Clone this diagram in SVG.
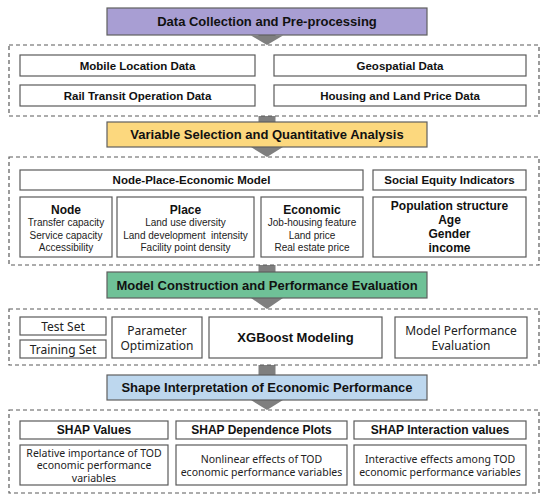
<svg xmlns="http://www.w3.org/2000/svg" width="550" height="501" viewBox="0 0 550 501">
<style>
.bg{fill:#ffffff}
.dash{fill:none;stroke:#5a5a5a;stroke-width:1.2;stroke-dasharray:4 3}
.box{fill:#ffffff;stroke:#5a5a5a;stroke-width:1.2}
.stage{stroke:#5f5f5f;stroke-width:1.2}
.arrow{fill:#7f7f7f}
.title{font-family:"Liberation Sans",Arial,sans-serif;font-weight:bold;font-size:13px;fill:#111;text-anchor:middle;dominant-baseline:central}
.bl{font-family:"Liberation Sans",Arial,sans-serif;font-weight:bold;font-size:11.5px;fill:#111;text-anchor:middle;dominant-baseline:central}
.hd{font-family:"Liberation Sans",Arial,sans-serif;font-weight:bold;font-size:12px;fill:#111;text-anchor:middle;dominant-baseline:central}
.sm{font-family:"Liberation Sans",Arial,sans-serif;font-size:10px;fill:#222;text-anchor:middle;dominant-baseline:central}
.ns{font-family:"Noto Sans",sans-serif;font-size:12px;fill:#222;text-anchor:middle;dominant-baseline:central}
.nd{font-family:"Noto Sans",sans-serif;font-size:10.5px;fill:#222;text-anchor:middle;dominant-baseline:central}
</style>
<rect class="bg" x="0" y="0" width="550" height="501"/>
<g id="connectors">
<polygon class="arrow" points="258.5,20 275.5,20 275.5,35.5 283,35.5 267,45 251,35.5 258.5,35.5"/>
<polygon class="arrow" points="258.5,116 275.5,116 275.5,147 283,147 267,157 251,147 258.5,147"/>
<polygon class="arrow" points="258.5,265 275.5,265 275.5,298 283,298 267,309 251,298 258.5,298"/>
<polygon class="arrow" points="258.5,365 275.5,365 275.5,400 283,400 267,410 251,400 258.5,400"/>
</g>
<g id="stage1">
<rect class="stage" x="107" y="8" width="320" height="27" fill="#a89ed3"/>
<text class="title" x="267" y="21.5">Data Collection and Pre-processing</text>
</g>
<g id="data-group">
<rect class="dash" x="9" y="45" width="530" height="71"/>
<g id="mobile"><rect class="box" x="20" y="55" width="235" height="21"/><text class="bl" x="137.5" y="65.5">Mobile Location Data</text></g>
<g id="geospatial"><rect class="box" x="274" y="55" width="252" height="21"/><text class="bl" x="400" y="65.5">Geospatial Data</text></g>
<g id="rail"><rect class="box" x="20" y="85" width="235" height="21"/><text class="bl" x="137.5" y="95.5">Rail Transit Operation Data</text></g>
<g id="housing"><rect class="box" x="274" y="85" width="252" height="21"/><text class="bl" x="400" y="95.5">Housing and Land Price Data</text></g>
</g>
<g id="stage2">
<rect class="stage" x="107" y="122" width="320" height="25" fill="#fcd87e"/>
<text class="title" x="267" y="134.5">Variable Selection and Quantitative Analysis</text>
</g>
<g id="variable-group">
<rect class="dash" x="9" y="157" width="530" height="108"/>
<g id="npe"><rect class="box" x="20" y="170" width="343" height="20"/><text class="bl" x="191.5" y="180">Node-Place-Economic Model</text></g>
<g id="social"><rect class="box" x="373" y="170" width="153" height="20"/><text class="bl" x="449.5" y="180">Social Equity Indicators</text></g>
<g id="node"><rect class="box" x="20" y="197" width="92" height="60"/>
<text class="hd" x="66" y="209.5">Node</text>
<text class="sm" x="66" y="222.5">Transfer capacity</text>
<text class="sm" x="66" y="235">Service capacity</text>
<text class="sm" x="66" y="247.5">Accessibility</text></g>
<g id="place"><rect class="box" x="117" y="197" width="137" height="60"/>
<text class="hd" x="185.5" y="209.5">Place</text>
<text class="sm" x="185.5" y="222.5">Land use diversity</text>
<text class="sm" x="185.5" y="235" xml:space="preserve">Land development  intensity</text>
<text class="sm" x="185.5" y="247.5">Facility point density</text></g>
<g id="economic"><rect class="box" x="261" y="197" width="102" height="60"/>
<text class="hd" x="312" y="209.5">Economic</text>
<text class="sm" x="312" y="222.5">Job-housing feature</text>
<text class="sm" x="312" y="235">Land price</text>
<text class="sm" x="312" y="247.5">Real estate price</text></g>
<g id="population"><rect class="box" x="373" y="197" width="153" height="60"/>
<text class="hd" x="449.5" y="206">Population structure</text>
<text class="hd" x="449.5" y="220">Age</text>
<text class="hd" x="449.5" y="234">Gender</text>
<text class="hd" x="449.5" y="248">income</text></g>
</g>
<g id="stage3">
<rect class="stage" x="107" y="272" width="320" height="26" fill="#6fc197"/>
<text class="title" x="267" y="285">Model Construction and Performance Evaluation</text>
</g>
<g id="model-group">
<rect class="dash" x="9" y="309" width="530" height="56"/>
<g id="test"><rect class="box" x="20" y="317" width="86" height="18"/><text class="ns" x="63" y="326">Test Set</text></g>
<g id="training"><rect class="box" x="20" y="340" width="86" height="18"/><text class="ns" x="63" y="349">Training Set</text></g>
<g id="param"><rect class="box" x="112" y="317" width="90" height="41"/><text class="ns" x="157" y="330">Parameter</text><text class="ns" x="157" y="345.5">Optimization</text></g>
<g id="xgboost"><rect class="box" x="209" y="317" width="173" height="41"/><text class="title" x="295.5" y="337.5">XGBoost Modeling</text></g>
<g id="perf"><rect class="box" x="395" y="317" width="132" height="41"/><text class="ns" x="461" y="330">Model Performance</text><text class="ns" x="461" y="345.5">Evaluation</text></g>
</g>
<g id="stage4">
<rect class="stage" x="107" y="375" width="320" height="25" fill="#bdd7ee"/>
<text class="title" x="267" y="387.5">Shape Interpretation of Economic Performance</text>
</g>
<g id="shap-group">
<rect class="dash" x="9" y="410" width="530" height="83"/>
<g id="shap-values"><rect class="box" x="20" y="421" width="148" height="18"/><text class="hd" x="94" y="430">SHAP Values</text></g>
<g id="shap-dep"><rect class="box" x="176" y="421" width="171" height="18"/><text class="hd" x="261.5" y="430">SHAP Dependence Plots</text></g>
<g id="shap-int"><rect class="box" x="354" y="421" width="172" height="18"/><text class="hd" x="440" y="430">SHAP Interaction values</text></g>
<g id="desc1"><rect class="box" x="20" y="445" width="148" height="40"/>
<text class="nd" x="94" y="452.5">Relative importance of TOD</text>
<text class="nd" x="94" y="465">economic performance</text>
<text class="nd" x="94" y="477.5">variables</text></g>
<g id="desc2"><rect class="box" x="176" y="445" width="171" height="40"/>
<text class="nd" x="261.5" y="458.5">Nonlinear effects of TOD</text>
<text class="nd" x="261.5" y="471.5">economic performance variables</text></g>
<g id="desc3"><rect class="box" x="354" y="445" width="172" height="40"/>
<text class="nd" x="440" y="458.5">Interactive effects among TOD</text>
<text class="nd" x="440" y="471.5">economic performance variables</text></g>
</g>
</svg>
